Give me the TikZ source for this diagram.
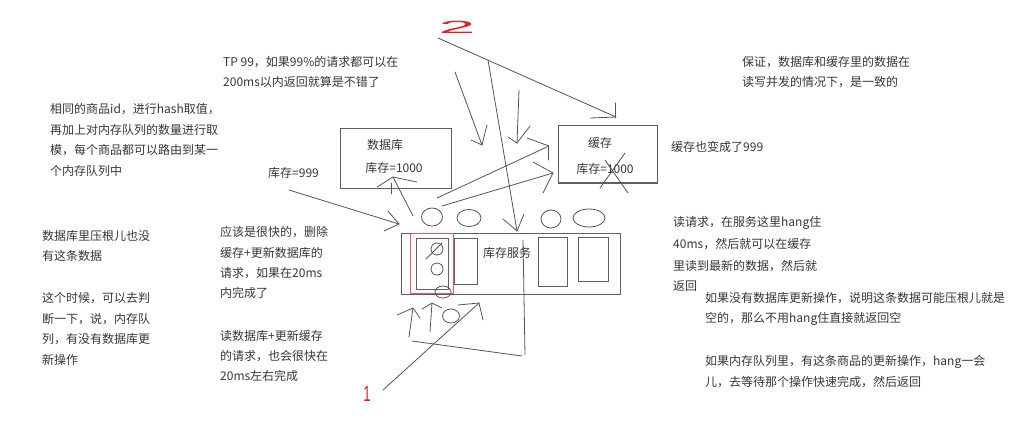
\documentclass[tikz,border=0pt]{standalone}
\usepackage{fontspec}
\setmainfont{Noto Sans CJK SC}
\newfontfamily\digitfont{Liberation Sans}
\definecolor{txtgray}{RGB}{55,55,55}
\definecolor{pengray}{RGB}{85,85,85}
\definecolor{boxgray}{RGB}{95,95,95}
\definecolor{redbox}{RGB}{235,90,90}
\definecolor{penred}{RGB}{230,30,40}
\begin{document}
\begin{tikzpicture}[x=1pt,y=-1pt,
  txt/.style={anchor=west, inner sep=0pt, text=txtgray, font=\fontsize{12}{14}\selectfont},
  lbl/.style={anchor=center, inner sep=0pt, text=txtgray, font=\fontsize{12}{14}\selectfont},
  pen/.style={draw=pengray, line width=0.8pt, line cap=round},
  boxline/.style={draw=boxgray, line width=0.9pt},
  redmark/.style={inner sep=0pt, text=penred, font=\digitfont\fontsize{22}{22}\selectfont}
]
\useasboundingbox[fill=white] (0,0) rectangle (1029,421);

% ---------------- boxes ----------------
\draw[boxline] (340,128) rectangle (451,188);
\node[lbl] (dbtitle) at (385,145) {数据库};
\node[lbl] (dbval) at (394,168) {库存=1000};

\draw[boxline] (558,125) rectangle (657,183);
\draw[draw=boxgray, line width=1.3pt] (558,183) -- (657,183);
\node[lbl] (catitle) at (600,143) {缓存};
\node[lbl] (caval) at (605,169) {库存=1000};
\draw[pen] (625,153) -- (600,188);
\draw[pen] (605,160) -- (628,193);

% service box
\draw[boxline] (401,233) rectangle (620,294);
\node[lbl] (svc) at (507,253) {库存服务};
\draw[draw=redbox, line width=0.8pt] (410,233) rectangle (453,293);
\draw[boxline] (416,238) rectangle (448,289);
\draw[boxline] (454,238) rectangle (477,284);
\draw[boxline] (538,237) rectangle (567,286);
\draw[boxline] (578,237) rectangle (608,281);
\draw[pen] (437,249) circle[radius=6pt];
\draw[pen] (426,259) -- (442,243);
\draw[pen] (437,269) circle[radius=6pt];
\draw[pen] (443,292) ellipse[x radius=8pt, y radius=6pt];

% ellipses above and below
\draw[pen] (432,217) ellipse[x radius=10.5pt, y radius=9pt];
\draw[pen] (469,218) ellipse[x radius=12pt, y radius=8.5pt];
\draw[pen] (551,219) ellipse[x radius=10pt, y radius=9pt];
\draw[pen] (589,218) ellipse[x radius=16pt, y radius=9pt];
\draw[pen] (451,316) ellipse[x radius=8.5pt, y radius=7pt];

% ---------------- strokes ----------------
% line from "2"
\draw[pen] (438,38) -- (616,117);
\draw[pen] (590,118) -- (616,117);
\draw[pen] (615,103) -- (615,118);
% long line down to service
\draw[pen] (488,60) -- (517,231);
\draw[pen] (503,219) -- (517,231) -- (524,214);
\draw[pen] (523,240) -- (525,355);
\draw[pen] (412,341) -- (522,356);
% line from "1"
\draw[pen] (383,390) -- (479,303);
\draw[pen] (458,305) -- (479,303) -- (483,320);
% small up arrows below service
\draw[pen] (409,337) -- (413,308);
\draw[pen] (397,315) -- (413,308) -- (420,318);
\draw[pen] (430,332) -- (432,303);
\draw[pen] (422,309) -- (432,303) -- (442,308);
% arrow from 库存=999
\draw[pen] (289,190) -- (399,224);
\draw[pen] (388,211) -- (399,224) -- (384,231);
% arrow up into 数据库
\draw[pen] (413,216) -- (393,177);
\draw[pen] (377,187) -- (393,177) -- (417,182);
\draw[pen] (391,183) -- (391,194);
% arrows into 缓存
\draw[pen] (437,198) -- (549,146);
\draw[pen] (527,138) -- (549,146);
\draw[pen] (548,147) -- (548,160);
\draw[pen] (442,206) -- (553,173);
\draw[pen] (533,162) -- (553,173) -- (543,193);
% down arrows from top
\draw[pen] (455,72) -- (482,145);
\draw[pen] (471,140) -- (482,145) -- (487,125);
\draw[pen] (519,90) -- (517,143);
\draw[pen] (508,137) -- (517,143) -- (530,126);

% red marks
\node[redmark, xscale=3, yscale=0.8] (two) at (457,27) {2};
\node[redmark, xscale=0.6] (one) at (367,394) {1};

% ---------------- texts ----------------
\node[txt] (a1) at (223,62) {TP 99，如果99\%的请求都可以在};
\node[txt] (a2) at (223,82) {200ms以内返回就算是不错了};

\node[txt] (b1) at (50,109) {相同的商品id，进行hash取值，};
\node[txt] (b2) at (50,130) {再加上对内存队列的数量进行取};
\node[txt] (b3) at (50,150.5) {模，每个商品都可以路由到某一};
\node[txt] (b4) at (50,171) {个内存队列中};

\node[txt] (c1) at (268,173) {库存=999};

\node[txt] (d1) at (42,236) {数据库里压根儿也没};
\node[txt] (d2) at (42,256) {有这条数据};

\node[txt] (e1) at (42,298) {这个时候，可以去判};
\node[txt] (e2) at (42,319) {断一下，说，内存队};
\node[txt] (e3) at (42,339) {列，有没有数据库更};
\node[txt] (e4) at (42,360) {新操作};

\node[txt] (f1) at (220,232) {应该是很快的，删除};
\node[txt] (f2) at (220,253) {缓存+更新数据库的};
\node[txt] (f3) at (220,273) {请求，如果在20ms};
\node[txt] (f4) at (220,293) {内完成了};

\node[txt] (g1) at (220,336) {读数据库+更新缓存};
\node[txt] (g2) at (220,356) {的请求，也会很快在};
\node[txt] (g3) at (220,376) {20ms左右完成};

\node[txt] (h1) at (742,62) {保证，数据库和缓存里的数据在};
\node[txt] (h2) at (742,82) {读写并发的情况下，是一致的};

\node[txt] (i1) at (671,147) {缓存也变成了999};

\node[txt] (j1) at (673,223) {读请求，在服务这里hang住};
\node[txt] (j2) at (673,244) {40ms，然后就可以在缓存};
\node[txt] (j3) at (673,266) {里读到最新的数据，然后就};
\node[txt] (j4) at (673,286) {返回};

\node[txt] (k1) at (705,298) {如果没有数据库更新操作，说明这条数据可能压根儿就是};
\node[txt] (k2) at (705,319) {空的，那么不用hang住直接就返回空};

\node[txt] (l1) at (705,362) {如果内存队列里，有这条商品的更新操作，hang一会};
\node[txt] (l2) at (705,382) {儿，去等待那个操作快速完成，然后返回};
\end{tikzpicture}
\end{document}
